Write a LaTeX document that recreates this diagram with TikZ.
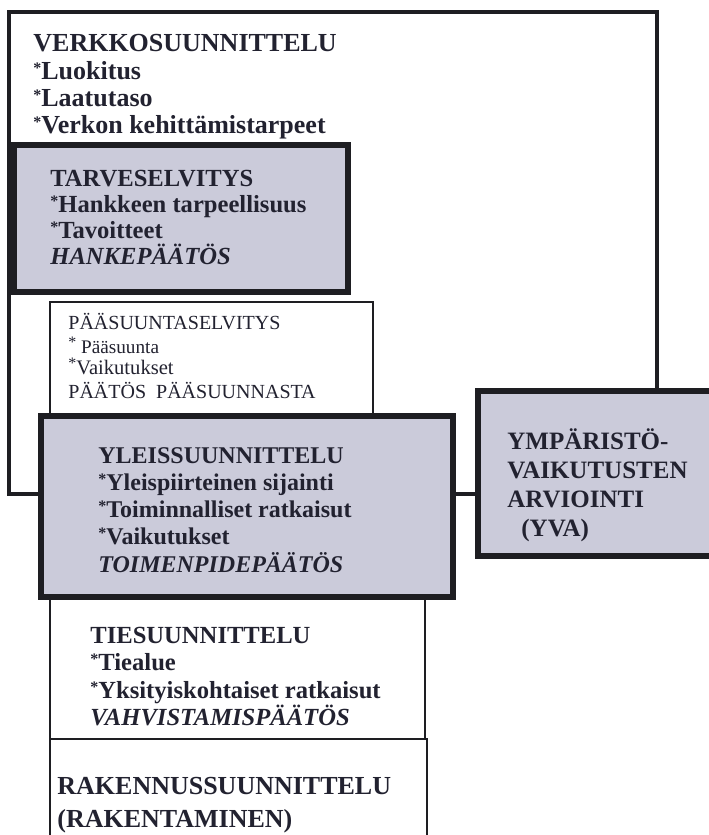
\documentclass[tikz,border=0pt]{standalone}
\usepackage{fontspec}
\setmainfont{Liberation Serif}
\usepackage{tikz}
\usetikzlibrary{positioning}
\definecolor{shade}{RGB}{203,203,218}
\definecolor{ink}{RGB}{34,34,48}
\definecolor{edge}{RGB}{30,30,34}
\newcommand{\itemstar}{\raisebox{3pt}{\fontsize{8}{8}\selectfont*}}

\begin{document}
\begin{tikzpicture}[
  x=0.5pt, y=-0.5pt,
  plainbox/.style={rectangle, draw=edge, fill=white, line width=0.6pt, inner sep=0pt, outer sep=0pt, anchor=north west},
  framebox/.style={rectangle, draw=edge, line width=2pt, inner sep=0pt, outer sep=0pt, anchor=north west},
  shadebox/.style={rectangle, draw=edge, fill=shade, line width=3pt, inner sep=0pt, outer sep=0pt, anchor=north west},
  boxtext/.style={align=left, inner sep=0pt, text=ink, font=\fontsize{12.5}{13.5}\selectfont\bfseries},
  smalltext/.style={align=left, inner sep=0pt, text=ink, font=\fontsize{10}{12}\selectfont}
]
  \useasboundingbox (0,0) rectangle (708,835);

  % boxes, back to front
  \node[framebox, minimum width=324pt, minimum height=241pt] (verkko) at (9,12) {};
  \node[shadebox, line width=2.8pt, minimum width=167pt, minimum height=73.5pt] (tarve) at (14,145) {};
  \node[plainbox, minimum width=161.5pt, minimum height=65pt] (paasuunta) at (50,302) {};
  \node[plainbox, minimum width=187.5pt, minimum height=74.5pt] (tie) at (50,590) {};
  \node[plainbox, minimum width=188.5pt, minimum height=70pt] (rakennus) at (50,739) {};
  \node[shadebox, minimum width=206pt, minimum height=90.5pt] (yleis) at (41,416) {};
  \node[shadebox, minimum width=118pt, minimum height=82.5pt] (yva) at (478,391) {};

  % texts
  \node[boxtext, font=\fontsize{13}{13.7}\selectfont\bfseries,
        below right=11pt and 12pt of verkko.north west] (verkkotxt)
    {VERKKOSUUNNITTELU\\\itemstar Luokitus\\\itemstar Laatutaso\\\itemstar Verkon kehittämistarpeet};
  \node[boxtext, font=\fontsize{12.3}{13}\selectfont\bfseries,
        below right=12.5pt and 18pt of tarve.north west] (tarvetxt)
    {TARVESELVITYS\\\itemstar Hankkeen tarpeellisuus\\\itemstar Tavoitteet\\\textit{HANKEPÄÄTÖS}};
  \node[smalltext, below right=5.5pt and 9pt of paasuunta.north west] (paasuuntatxt)
    {PÄÄSUUNTASELVITYS\\{\fontsize{9.6}{11}\selectfont\itemstar\ Pääsuunta}\\[-1.5pt]{\fontsize{10.3}{11}\selectfont\itemstar Vaikutukset}\\PÄÄTÖS\ \ PÄÄSUUNNASTA};
  \node[boxtext, font=\fontsize{12}{13.6}\selectfont\bfseries,
        below right=15.5pt and 28.5pt of yleis.north west] (yleistxt)
    {YLEISSUUNNITTELU\\\itemstar Yleispiirteinen sijainti\\\itemstar Toiminnalliset ratkaisut\\\itemstar Vaikutukset\\\textit{TOIMENPIDEPÄÄTÖS}};
  \node[boxtext, font=\fontsize{12.5}{14.5}\selectfont\bfseries,
        below right=18.5pt and 14.5pt of yva.north west] (yvatxt)
    {YMPÄRISTÖ-\\VAIKUTUSTEN\\ARVIOINTI\\\hspace{7pt}(YVA)};
  \node[boxtext, font=\fontsize{12.3}{13.6}\selectfont\bfseries,
        below right=18.5pt and 20pt of tie.north west] (tietxt)
    {TIESUUNNITTELU\\\itemstar Tiealue\\\itemstar Yksityiskohtaiset ratkaisut\\\textit{VAHVISTAMISPÄÄTÖS}};
  \node[boxtext, font=\fontsize{13}{16.5}\selectfont\bfseries,
        below right=19pt and 3.5pt of rakennus.north west] (rakennustxt)
    {RAKENNUSSUUNNITTELU\\(RAKENTAMINEN)};
\end{tikzpicture}
\end{document}
